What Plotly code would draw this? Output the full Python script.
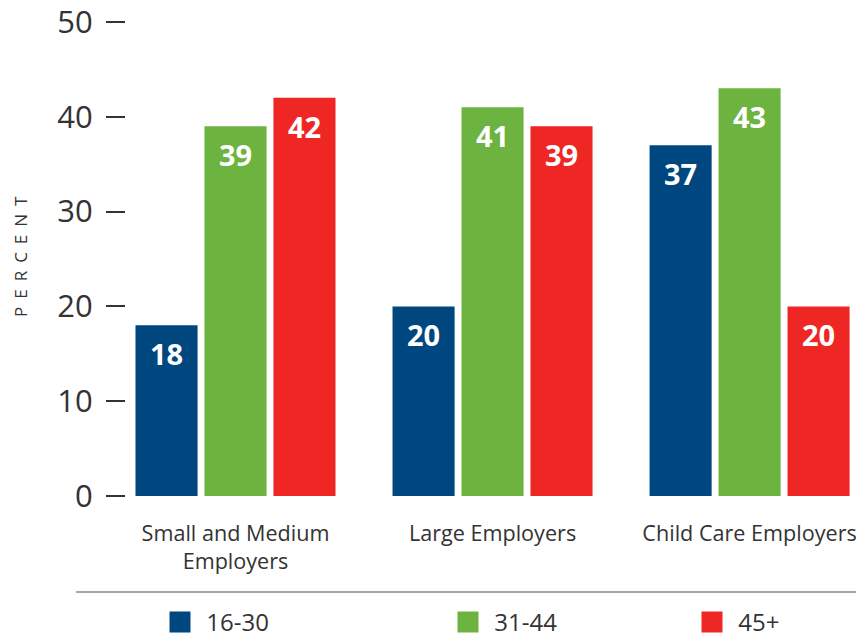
import plotly.graph_objects as go

categories = ["Small and Medium<br>Employers", "Large Employers", "Child Care Employers"]
series_names = ["16-30", "31-44", "45+"]
values_16_30 = [18, 20, 37]
values_31_44 = [39, 41, 43]
values_45_plus = [42, 39, 20]
colors = ["#00467f", "#6cb33f", "#ee2724"]
y_ticks = [0, 10, 20, 30, 40, 50]
y_title = "PERCENT"

series_values = [values_16_30, values_31_44, values_45_plus]

FONT = "Open Sans"
W, H = 856, 637
ML, MR, MT, MB = 126, 0, 22, 141
PW = W - ML - MR
PH = H - MT - MB

fig = go.Figure()
for name, vals, col in zip(series_names, series_values, colors):
    fig.add_trace(go.Bar(
        x=categories, y=vals, name=name,
        marker=dict(color=col, line=dict(width=0)),
        showlegend=False, hoverinfo="x+y+name",
    ))

# legend proxies, one legend each
legend_ids = ["legend", "legend2", "legend3"]
for name, col, lid in zip(series_names, colors, legend_ids):
    fig.add_trace(go.Scatter(
        x=[None], y=[None], mode="markers", name="\u00a0" + name,
        marker=dict(symbol="square", size=16, color=col, line=dict(color=col, width=5)),
        legend=lid, showlegend=True,
    ))

# value labels inside bars (positioned by axis scale; group offset)
n = len(series_names)
cat_px = PW / 2.84
slot = cat_px * (1 - 0.195) / n
for i, (vals, col) in enumerate(zip(series_values, colors)):
    for c, v in zip(categories, vals):
        fig.add_annotation(
            x=c, y=v, xref="x", yref="y", text="<b>%d</b>" % v,
            showarrow=False, yanchor="top", xanchor="center",
            xshift=(i - (n - 1) / 2) * slot, yshift=-7,
            font=dict(family=FONT, size=29, color="white"),
        )

def px_to_paper_x(px):
    return (px - ML) / PW

def px_to_paper_y(py):
    return (H - MB - py) / PH

# y axis title
fig.add_annotation(
    x=px_to_paper_x(20), y=px_to_paper_y(253), xref="paper", yref="paper",
    text='<span style="letter-spacing:8px">%s</span>' % y_title,
    textangle=-90, showarrow=False, xanchor="center", yanchor="middle",
    font=dict(family=FONT, size=17, color="#333333"),
)

# separator line above legend
fig.add_shape(type="line", xref="paper", yref="paper",
              x0=px_to_paper_x(76), x1=1, y0=px_to_paper_y(592), y1=px_to_paper_y(592),
              line=dict(color="#8a8a8a", width=1.5))

legend_common = dict(orientation="h", yanchor="top", xanchor="left",
                     font=dict(family=FONT, size=24, color="#333333"),
                     bgcolor="rgba(0,0,0,0)", borderwidth=0, itemsizing="trace")
leg_px = [160, 448, 692]
layout_legends = {}
for lid, lx in zip(legend_ids, leg_px):
    d = dict(legend_common)
    d["x"] = px_to_paper_x(lx)
    d["y"] = px_to_paper_y(600)
    layout_legends[lid] = d

fig.update_layout(
    width=W, height=H,
    margin=dict(l=ML, r=MR, t=MT, b=MB, autoexpand=False),
    paper_bgcolor="white", plot_bgcolor="white",
    barmode="group", bargap=0.195, bargroupgap=0.10,
    font=dict(family=FONT, color="#333333"),
    xaxis=dict(range=[-0.426, 2.414], showgrid=False, zeroline=False, showline=False,
               ticks="", tickfont=dict(family=FONT, size=21.6, color="#333333"),
               ticklabelstandoff=22, fixedrange=True),
    yaxis=dict(range=[0, 50], tickvals=y_ticks, showgrid=False, zeroline=False, showline=False,
               ticks="outside", ticklen=19, tickwidth=1.5, tickcolor="#333333",
               tickfont=dict(family=FONT, size=31, color="#333333"),
               ticklabelstandoff=7, ticklabeloverflow="allow",
               fixedrange=True),
    **layout_legends,
)

fig.write_html("out.html", config={"displayModeBar": False},
               post_script="document.body.style.margin='0';document.body.style.padding='0';")
